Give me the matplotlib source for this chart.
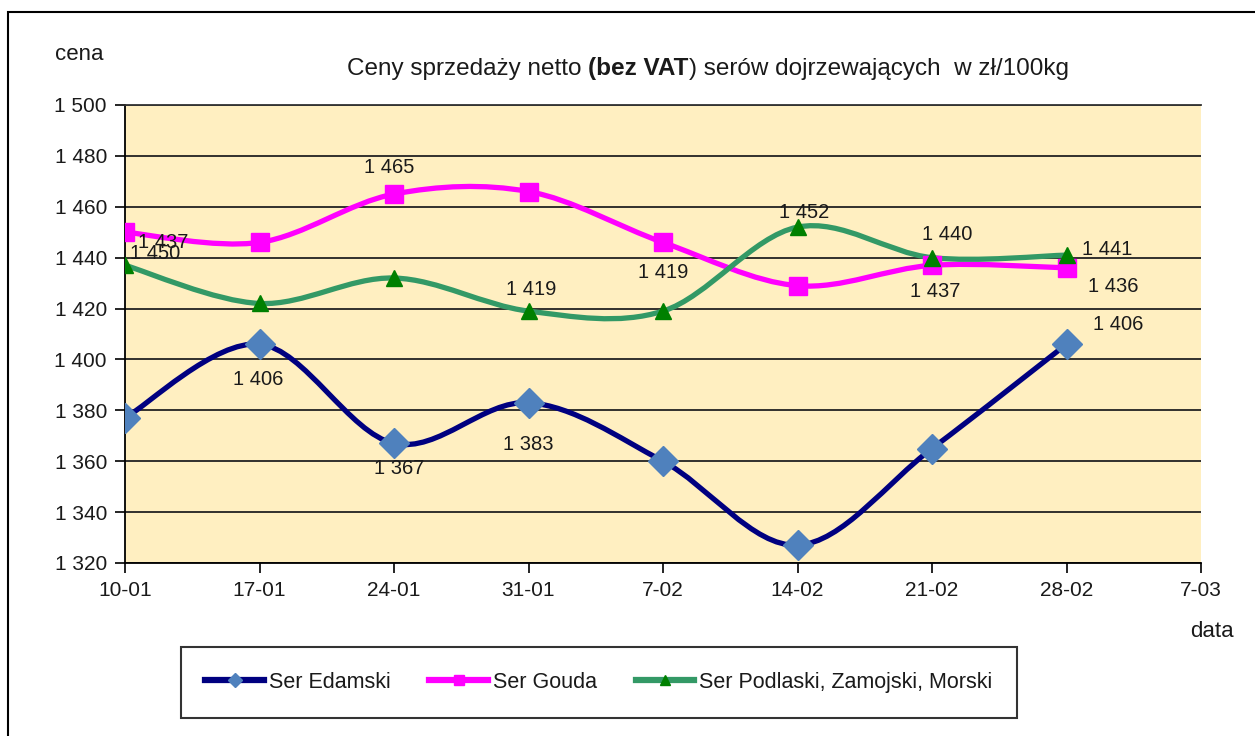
import numpy as np
import matplotlib
matplotlib.use('Agg')
import matplotlib.pyplot as plt
from matplotlib.path import Path
from matplotlib.patches import PathPatch, Rectangle
from matplotlib.lines import Line2D

plt.rcParams['font.family'] = ['Liberation Sans', 'DejaVu Sans']

# data
dates = ['10-01', '17-01', '24-01', '31-01', '7-02', '14-02', '21-02', '28-02', '7-03']
edamski = [1377, 1406, 1367, 1383, 1360, 1327, 1365, 1406]
gouda = [1450, 1446, 1465, 1466, 1446, 1429, 1437, 1436]
podlaski = [1437, 1422, 1432, 1419, 1419, 1452, 1440, 1441]
names = ['Ser Edamski', 'Ser Gouda', 'Ser Podlaski, Zamojski, Morski']

# which points carry a value label, and where (pixel offset from the point)
label_pos = {
    'edamski': {1: (-1, -35), 2: (5, -25), 3: (0, -42), 7: (52, 20)},
    'gouda': {0: (30, -21), 2: (-5, 27), 6: (3, -26), 7: (47, -19)},
    'podlaski': {0: (38, 23), 3: (3, 22), 4: (0, 39), 5: (7, 15), 6: (15, 23), 7: (41, 6)},
}


def smooth_path(xs, ys):
    # excel-like smoothed line: catmull-rom as cubic bezier
    p = np.column_stack([xs, ys]).astype(float)
    p = np.vstack([p[0], p, p[-1]])
    verts = [tuple(p[1])]
    codes = [Path.MOVETO]
    for i in range(len(xs) - 1):
        p0, p1, p2, p3 = p[i], p[i + 1], p[i + 2], p[i + 3]
        c1 = p1 + (p2 - p0) / 6
        c2 = p2 - (p3 - p1) / 6
        verts += [tuple(c1), tuple(c2), tuple(p2)]
        codes += [Path.CURVE4] * 3
    return Path(verts, codes)


def fmt(v):
    return f'{int(v):,}'.replace(',', ' ')


fig = plt.figure(figsize=(12.55, 7.36), dpi=100)
W, H = 1255, 736
ax = fig.add_axes([125 / W, 1 - 563 / H, (1201 - 125) / W, (563 - 105) / H])
ax.set_facecolor('#FFEFC1')

x = np.arange(len(edamski))
series = [
    ('edamski', edamski, '#000080', 'D', '#4F81BD', 15),
    ('gouda', gouda, '#FF00FF', 's', '#FF00FF', 13),
    ('podlaski', podlaski, '#339966', '^', '#008000', 12),
]
handles = []
for (key, vals, lc, mk, mc, ms), name in zip(series, names):
    ax.add_patch(PathPatch(smooth_path(x, vals), fill=False, edgecolor=lc,
                           lw=3.8, capstyle='round', joinstyle='round', zorder=3))
    ax.plot(x, vals, ls='none', marker=mk, ms=ms, mfc=mc, mec=mc, zorder=4)
    for i, (dx, dy) in label_pos[key].items():
        ax.annotate(fmt(vals[i]), (x[i], vals[i]), xytext=(dx * 0.72, dy * 0.72),
                    textcoords='offset points', ha='center', va='center',
                    fontsize=14.5, color='#1a1a1a', zorder=5)
    handles.append(Line2D([], [], color=lc, lw=4.5, marker=mk, ms=7, mfc=mc, mec=mc))

ax.set_xlim(0, len(dates) - 1)
ax.set_ylim(1320, 1500)
ax.set_xticks(np.arange(len(dates)))
ax.set_xticklabels(dates)
yt = np.arange(1320, 1501, 20)
ax.set_yticks(yt)
ax.set_yticklabels([fmt(v) for v in yt])
ax.tick_params(direction='out', length=7, width=1.2, color='black',
               labelsize=15, labelcolor='#1a1a1a', pad=6)
ax.yaxis.grid(True, color='#222222', lw=1.3)
ax.set_axisbelow(True)
for s in ['left', 'bottom']:
    ax.spines[s].set_color('black')
    ax.spines[s].set_linewidth(1.3)
ax.spines['top'].set_color('#333333')
ax.spines['top'].set_linewidth(1.3)
ax.spines['right'].set_visible(False)

# outer frame
fig.patches.append(Rectangle((8 / W, -0.05), 1.1, 1 - 12 / H + 0.05, transform=fig.transFigure,
                             fill=False, edgecolor='black', lw=1.5))

fig.text(55 / W, 1 - 60 / H, 'cena', fontsize=16, color='#1a1a1a', va='baseline')
fig.text(1190 / W, 1 - 637 / H, 'data', fontsize=16, color='#1a1a1a', va='baseline')

# title with bold part
ty = 1 - 75 / H
t1 = fig.text(347 / W, ty, 'Ceny sprzedaży netto ', fontsize=17.5,
              color='#1a1a1a', va='baseline')
t2 = fig.text(0, 0, '(bez VAT', fontsize=17.5, fontweight='bold', color='#1a1a1a')
t3 = fig.text(0, 0, ') serów dojrzewających  w zł/100kg', fontsize=17.5, color='#1a1a1a')
fig.canvas.draw()
r = fig.canvas.get_renderer()
bb1 = t1.get_window_extent(r)
t2.set_position((bb1.x1 / W, ty))
t2.set_va('baseline')
fig.canvas.draw()
bb2 = t2.get_window_extent(r)
t3.set_position((bb2.x1 / W, ty))
t3.set_va('baseline')

leg = fig.legend(handles, names, loc='center', ncol=3,
                 bbox_to_anchor=(178 / W, 1 - 720 / H, (1020 - 178) / W, 75 / H),
                 bbox_transform=fig.transFigure, fontsize=15.5, frameon=True,
                 fancybox=False, edgecolor='black', handlelength=2.7,
                 handletextpad=0.25, columnspacing=1.8, borderpad=1.15)
leg.get_frame().set_linewidth(1.5)
for t in leg.get_texts():
    t.set_color('#1a1a1a')

fig.savefig('out.png', dpi=100)
